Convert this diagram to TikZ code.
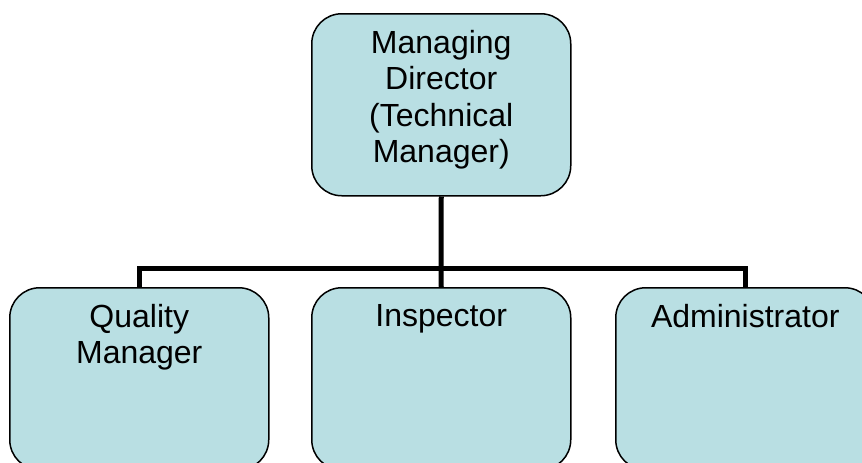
\documentclass[tikz,border=0pt]{standalone}
\usepackage{fontspec}
\setmainfont{Liberation Sans}
\definecolor{boxfill}{RGB}{185,223,227}
\begin{document}
\begin{tikzpicture}[x=1pt,y=-1pt,
  box/.style={draw=black, line width=1.5pt, fill=boxfill, rounded corners=30pt,
    minimum width=259pt, minimum height=182pt, anchor=north west, inner sep=0pt},
  lbl/.style={anchor=north, align=center, inner sep=0pt,
    font=\fontsize{32}{36.5}\selectfont},
  conn/.style={line width=5pt, line join=miter}]
\useasboundingbox (0,0) rectangle (862,463);
\clip (0,0) rectangle (862,463);
\node[box] (md) at (311,13) {};
\node[box] (qm) at (9,287) {};
\node[box] (ins) at (311,287) {};
\node[box] (adm) at (615,287) {};
\coordinate (j) at (441,268);
\draw[conn] (md.south) -- (j);
\draw[conn] (qm.north) |- (j) -| (adm.north);
\draw[conn] (j) -- (ins.north);
\node[lbl] (tmd) at ([yshift=-17pt]md.north) {Managing\\Director\\(Technical\\Manager)};
\node[lbl] (tqm) at ([yshift=-17pt]qm.north) {Quality\\Manager};
\node[lbl] (tins) at ([yshift=-17pt]ins.north) {Inspector};
\node[lbl] (tadm) at ([yshift=-17pt]adm.north) {Administrator};
\end{tikzpicture}
\end{document}
